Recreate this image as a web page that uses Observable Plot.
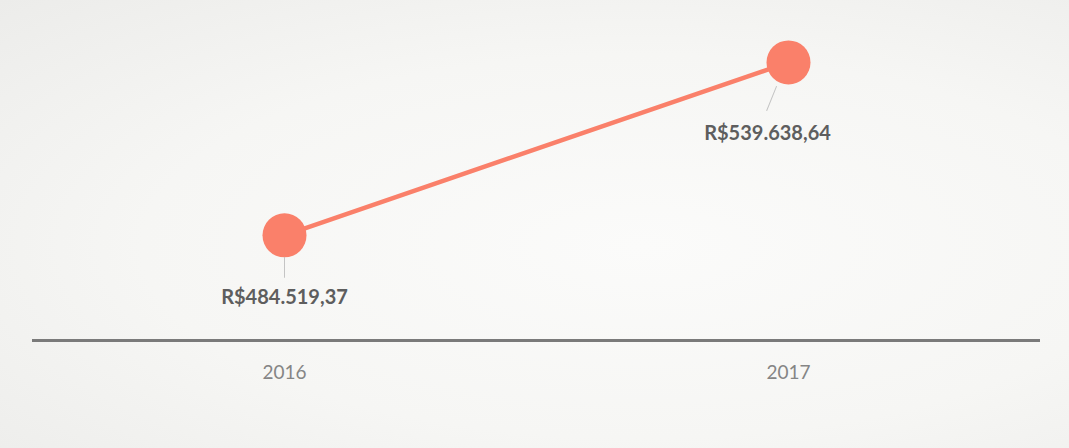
<!DOCTYPE html>
<html>
<head>
<meta charset="utf-8">
<script src="https://cdn.jsdelivr.net/npm/d3@7"></script>
<script src="https://cdn.jsdelivr.net/npm/@observablehq/plot@0.6"></script>
<style>
  html, body { margin: 0; padding: 0; }
  body {
    width: 1069px; height: 448px; overflow: hidden;
    background: radial-gradient(ellipse at 60% 55%, #fbfbfa 0%, #f6f6f4 55%, #ececea 100%);
    font-family: Lato, "Open Sans", sans-serif;
  }
  #chart svg { display: block; background: transparent; }
</style>
</head>
<body>
<div id="chart"></div>
<script>
const years = ["2016", "2017"];
const values = [484519.37, 539638.64];
const labels = ["R$484.519,37", "R$539.638,64"];

const data = years.map((year, i) => ({year, value: values[i], label: labels[i]}));
const first = data.filter(d => d.year === "2016");
const last = data.filter(d => d.year === "2017");

const coral = "#fa806a";
const leaderShape = {draw(context, l) { context.moveTo(0, 0); context.lineTo(0, -l); }};

const chart = Plot.plot({
  width: 1069,
  height: 448,
  marginLeft: 32,
  marginRight: 29,
  marginTop: 20,
  marginBottom: 108,
  style: {background: "transparent", fontFamily: "Lato, 'Open Sans', sans-serif"},
  x: {type: "point", domain: years, padding: 0.5, axis: null},
  y: {domain: [451000, 553000], axis: null},
  marks: [
    Plot.ruleY([451000], {stroke: "#7a7a7a", strokeWidth: 3}),
    Plot.axisX({tickSize: 0, tickPadding: 0, dy: 25, fontSize: 19, fill: "#858585", label: null}),
    Plot.line(data, {x: "year", y: "value", stroke: coral, strokeWidth: 4.5}),
    Plot.dot(data, {x: "year", y: "value", r: 22, fill: coral, stroke: null}),
    Plot.vector(first, {x: "year", y: "value", length: 20, rotate: 180, anchor: "start", dy: 22,
      shape: leaderShape, stroke: "#c4c4c4", strokeWidth: 1}),
    Plot.vector(last, {x: "year", y: "value", length: 26, rotate: 202, anchor: "start", dx: -12, dy: 24,
      shape: leaderShape, stroke: "#c4c4c4", strokeWidth: 1}),
    Plot.text(first, {x: "year", y: "value", text: "label", dy: 62, dx: 0,
      fontSize: 20, fontWeight: "bold", fill: "#5e5e5e"}),
    Plot.text(last, {x: "year", y: "value", text: "label", dy: 71, dx: -21,
      fontSize: 20, fontWeight: "bold", fill: "#5e5e5e"})
  ]
});
document.getElementById("chart").append(chart);
</script>
</body>
</html>
